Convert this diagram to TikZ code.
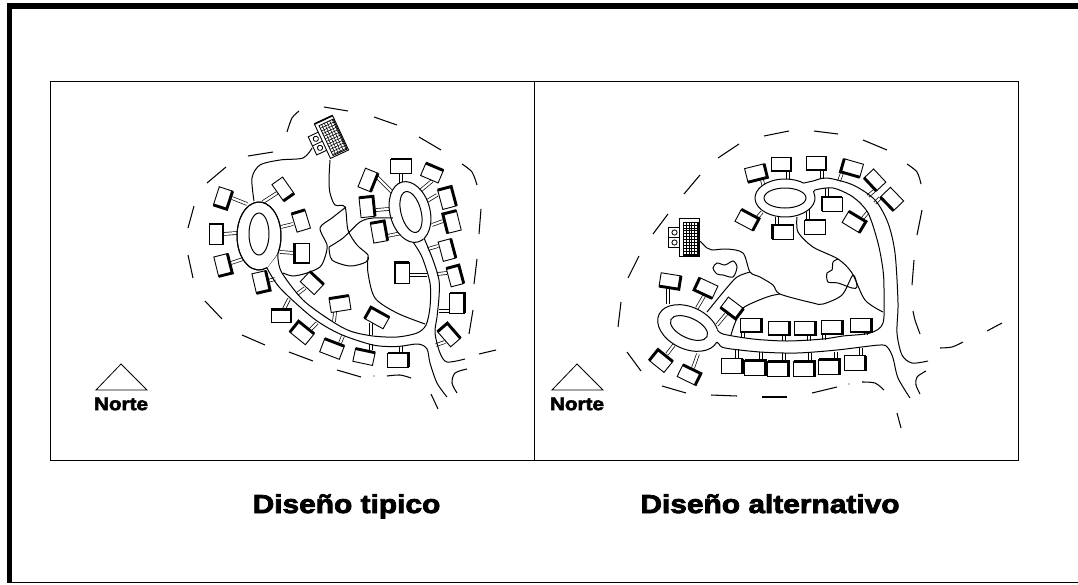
\documentclass[tikz,border=0pt]{standalone}
\usepackage{fontspec}
\setmainfont{Liberation Sans}[BoldFeatures={FakeBold=3,FakeStretch=1.15}]
\tikzset{
  casaline/.style={line width=.9pt,fill=white,line join=miter},
  casaedge/.style={line width=2.9pt,line cap=butt},
  acceso/.style={double,double distance=2.2pt,line width=.7pt},
  calle/.style={line width=1pt},
  limite/.style={line width=1.05pt},
  anillo/.style={line width=1pt,fill=white}
}
\newcommand{\casa}[6]{%
  \begin{scope}[shift={(#1,#2)},rotate=#3]
    \coordinate (a) at (-#4/2,-#5/2);
    \coordinate (b) at (#4/2,-#5/2);
    \coordinate (c) at (#4/2,#5/2);
    \coordinate (d) at (-#4/2,#5/2);
    \draw[casaline] (a) -- (b) -- (c) -- (d) -- cycle;
    \draw[casaedge] #6;
  \end{scope}}
\newcommand{\edificio}[3]{%
  \begin{scope}[shift={(#1,#2)},rotate=#3]
    \draw[casaline] (-21,-10) rectangle (-9,10);
    \draw[line width=.8pt] (-21,0) -- (-9,0);
    \draw[line width=.8pt] (-15,-5) circle (2.6);
    \draw[line width=.8pt] (-15,5) circle (2.6);
    \draw[casaline] (-10,-19) rectangle (10,19);
    \draw[line width=1.6pt] (-10,-19) -- (10,-19);
    \foreach \gx in {-3.6,-0.7,...,9}
      \draw[line width=.55pt] (\gx,-15.5) -- (\gx,17.5);
    \foreach \gy in {-12.6,-9.7,...,17}
      \draw[line width=.55pt] (-6.5,\gy) -- (9,\gy);
    \draw[line width=.8pt] (-6.5,-15.5) rectangle (9,17.5);
  \end{scope}}
\begin{document}
\begin{tikzpicture}[x=1pt,y=-1pt]
\useasboundingbox (0,0) rectangle (1078,584);
\fill[white] (0,0) rectangle (1078,584);
\fill (7,3) rectangle (1078,9);
\fill (7,3) rectangle (12,583);
\draw[line width=1.4pt] (7,582.5) -- (1078,582.5);
\draw[line width=.7pt] (50,81) rectangle (1018,460);
\draw[line width=.7pt] (534,81) -- (534,460);

% trazos del limite
\foreach \xa/\ya/\xb/\yb in {248/156/273/152,207/183/226/167,324/107/348/111,194/206/188/228,
  188/255/193/278,205/301/222/319,242/335/265/345,289/352/313/361,337/370/361/377,
  431/394/438/409,479/354/496/350,469/334/473/310,474/284/477/259,479/234/481/209,
  419/137/441/150,374/117/397/125,
  764/136/789/131,718/158/739/144,684/194/700/175,653/234/668/214,628/278/639/256,
  814/131/838/134,863/140/887/150,922/210/917/235,914/260/912/285,987/331/1002/323,
  897/413/901/428,812/393/837/387,762/397/787/397,711/395/737/396,662/386/686/393,
  627/352/641/371,621/302/618/327}
  \draw[limite] (\xa,\ya) -- (\xb,\yb);
\draw[limite] plot[smooth] coordinates {(287,132) (292,118) (299,111)};
\draw[limite] plot[smooth] coordinates {(387,376) (400,375) (411,378)};
\draw[limite] plot[smooth] coordinates {(462,164) (472,172) (477,185)};
\draw[limite] plot[smooth] coordinates {(467,369) (455,373) (452,383) (457,393)};
\draw[limite] plot[smooth] coordinates {(907,164) (917,172) (921,184)};
\draw[limite] plot[smooth] coordinates {(913,311) (915,320) (920,334)};
\draw[limite] plot[smooth] coordinates {(940,348) (952,347) (963,342)};
\draw[limite] plot[smooth] coordinates {(926,371) (917,377) (916,385) (920,394)};
\draw[limite] plot[smooth] coordinates {(862,382) (875,383) (884,390)};
\fill (374,376) circle (.7);
\fill (849,384) circle (.7);

% accesos
\foreach \xa/\ya/\xb/\yb in {232/198/247/204,277/193/263/202,293/224/281/227,295/253/280/252,
  223/234/237/233,231/263/246/258,268/281/275/279,305/288/297/294,284/309/289/299,
  335/312/334/322,310/330/317/323,340/343/343/336,371/350/371/344,401/353/401/346,
  409/275/427/275,371/323/371/335,450/311/439/311,447/273/437/274,438/246/428/249,
  445/342/436/345,377/177/392/192,401/173/401/183,432/181/420/191,437/195/427/201,
  443/221/432/225,376/210/389/209,387/236/402/233,
  762/180/764/187,788/171/788/179,822/171/822/179,842/173/839/181,874/191/868/196,
  880/198/875/203,827/197/827/188,868/212/863/218,808/219/808/208,777/224/777/217,
  762/212/757/218,668/289/668/304,704/296/697/308,727/313/717/325,743/332/743/338,
  784/335/784/341,809/336/809/341,824/335/824/340,866/332/866/335,737/358/737/349,
  761/360/761/352,784/362/784/353,810/362/810/353,836/359/836/352,861/356/861/348,
  667/354/674/345,693/368/698/354}
  \draw[acceso] (\xa,\ya) -- (\xb,\yb);

% calles y anillos, diseno tipico
\draw[anillo] (259,236) ++(30:22 and 34) arc[start angle=30,end angle=-291,x radius=22,y radius=34] -- cycle;
\fill[white] (278,253) -- (267,268) -- (259,236) -- cycle;
\draw[calle] (259,236) ++(30:22 and 34) arc[start angle=30,end angle=-291,x radius=22,y radius=34];
\draw[calle] (259,234) ellipse (10 and 21);
\draw[calle] plot[smooth] coordinates {(278,253) (278,259) (282,273) (303,300) (330,320) (350,331) (373,336) (397,337) (417,333) (426,325) (430,307) (430,283) (422,257) (413,242)};
\draw[calle] plot[smooth] coordinates {(267,268) (280,288) (313,318) (340,334) (373,345) (397,346.5) (418,344) (427,349) (430,363) (437,383) (447,397)};
\draw[calle] plot[smooth] coordinates {(424,238) (433,260) (439,280) (439,297) (437,317) (435,333) (440,353) (447,362) (465,359)};
\draw[rotate around={15:(410,212)},anillo] (410,212) ellipse (20 and 31);
\fill[white,rotate around={15:(410,212)}] (410,212) ++(70:20 and 31) -- ++(0,-5) -- (402,240) -- cycle;
\draw[calle,rotate around={15:(411,212)}] (411,212) ellipse (10 and 21);

% senderos, diseno tipico
\draw[calle] plot[smooth] coordinates {(312,148) (303,158) (280,160) (260,165) (252,178) (254,201)};
\draw[calle] plot[smooth] coordinates {(330,160) (329,180) (330,193) (335,205) (345,207) (348,230) (357,245) (368,255) (366,262) (350,266) (332,260) (329,247)};
\draw[calle] plot[smooth] coordinates {(346,207) (332,218) (320,228) (327,245) (325,257) (320,267) (307,273) (293,276) (283,273)};
\draw[calle] plot[smooth] coordinates {(329,247) (343,238) (360,222) (373,218) (393,218)};
\draw[calle] plot[smooth] coordinates {(368,257) (368,273) (375,298) (397,313) (425,324)};

% calles y anillos, diseno alternativo
\draw[calle,fill=white] (785,198) ++(-15:30 and 19) arc[start angle=-15,end angle=309,x radius=30,y radius=19];
\draw[calle] (785,198) ellipse (21 and 10);
\draw[calle] plot[smooth] coordinates {(804,183) (813,181) (827,178) (853,185) (875,200) (888,223) (895,253) (898,303) (897,333) (902,355) (912,363) (928,361)};
\draw[calle] plot[smooth] coordinates {(814,193) (815,190) (833,188) (853,197) (868,213) (878,243) (883,270) (884,290) (883,323) (870,333) (843,336) (823,339) (787,341) (753,339) (723,334) (717,329)};
\draw[calle,rotate around={-25:(688,328)},fill=white] (688,328) ++(2:32 and 21) arc[start angle=2,end angle=327,x radius=32,y radius=21];
\draw[calle,rotate around={-25:(689,328)}] (689,328) ellipse (20 and 10);
\draw[calle] plot[smooth] coordinates {(717,342) (719,344) (725,348) (760,352) (797,353) (837,350) (880,345) (888,348) (893,358) (898,378) (910,398)};

% senderos, diseno alternativo
\draw[calle] plot[smooth] coordinates {(797,217) (798,232) (813,247) (838,259) (852,273) (865,300) (883,312)};
\draw[calle] plot[smooth] coordinates {(838,259) (833,262) (832,270) (827,273) (828,282) (838,283) (852,288) (857,287) (853,275) (842,295) (823,304) (813,303) (780,294) (773,285) (760,277) (750,272) (743,253) (727,249) (712,250) (707,248) (700,241)};
\draw[calle] plot[smooth] coordinates {(780,294) (767,297) (743,308) (735,323) (731,335)};
\draw[calle] plot[smooth] coordinates {(750,272) (737,277) (725,290) (707,312)};
\draw[calle] plot[smooth cycle] coordinates {(713,268) (717,263) (725,265) (733,261) (737,267) (733,277) (723,275) (717,274)};

\edificio{331.5}{137}{25}
\edificio{689.5}{237.5}{0}

% casas, diseno tipico
\casa{223}{198}{-18}{14}{19}{(b) -- (c) -- (d)}
\casa{283}{189}{35}{13}{20}{(c) -- (d)}
\casa{301}{221}{17}{14}{19}{(a) -- (b)}
\casa{302}{253}{0}{14.5}{20}{(a) -- (d) -- (c)}
\casa{216}{234}{0}{14}{20}{(a) -- (b) -- (c)}
\casa{223}{265}{14}{14}{20}{(b) -- (c) -- (d)}
\casa{261}{282}{13}{14}{20}{(b) -- (c) -- (d)}
\casa{312}{283}{-43}{19}{14}{(a) -- (b)}
\casa{281}{316}{0}{20}{13.5}{(a) -- (b) -- (c)}
\casa{340}{304}{9}{20}{14}{(a) -- (b)}
\casa{302}{333}{-39}{20}{14}{(d) -- (a) -- (b)}
\casa{332}{349}{-21}{21}{14}{(a) -- (b)}
\casa{364}{357}{-12}{20}{13}{(a) -- (b)}
\casa{398}{360}{0}{21}{14}{(a) -- (b) -- (c)}
\casa{402}{273}{0}{14}{21}{(d) -- (a) -- (b)}
\casa{377}{318}{-29}{21}{13}{(d) -- (a) -- (b)}
\casa{457}{303}{0}{15}{20}{(a) -- (b) -- (c)}
\casa{455}{276}{15}{13}{19}{(a) -- (b) -- (c)}
\casa{447}{250}{15}{13}{20}{(b) -- (c)}
\casa{449}{335}{-49}{20}{13}{(d) -- (a) -- (b)}
\casa{368}{180}{-22}{13.5}{20}{(b) -- (c)}
\casa{401}{166}{0}{21}{14}{(a) -- (b)}
\casa{432}{173}{-23}{19}{13.5}{(a) -- (b)}
\casa{447}{198}{15}{14}{20}{(a) -- (b) -- (c)}
\casa{452}{222}{14}{14}{20}{(d) -- (a) -- (b)}
\casa{367}{207}{6}{14}{20}{(a) -- (b) -- (c)}
\casa{379}{232}{10}{14}{20}{(a) -- (b) -- (c)}

% casas, diseno alternativo
\casa{756}{173}{14}{20}{14}{(b) -- (c) -- (d)}
\casa{781}{164}{0}{20}{14}{(b) -- (c) -- (d)}
\casa{816}{163}{0}{20}{14}{(b) -- (c) -- (d)}
\casa{852}{168}{-16}{20}{13.5}{(a) -- (d) -- (c)}
\casa{875}{180}{-47}{18}{13}{(d) -- (c)}
\casa{892}{199}{-46}{19}{14}{(d) -- (c)}
\casa{832}{204}{0}{20}{14}{(d) -- (a) -- (b)}
\casa{854}{222}{-31}{20}{13}{(a) -- (b) -- (c)}
\casa{815}{227}{0}{21}{14}{(a) -- (b)}
\casa{783}{232}{0}{21}{14}{(d) -- (a) -- (b)}
\casa{747}{220}{-28}{20}{13.5}{(a) -- (b) -- (c)}
\casa{670}{281}{-9}{20}{13.5}{(b) -- (c) -- (d)}
\casa{706}{288}{-25}{20}{13.5}{(a) -- (d) -- (c)}
\casa{732}{308}{-37}{19}{13}{(d) -- (c) -- (b)}
\casa{751}{325}{0}{21}{14}{(b) -- (c) -- (d)}
\casa{779}{328}{0}{21}{14}{(b) -- (c) -- (d)}
\casa{805}{328}{0}{21}{14}{(b) -- (c) -- (d)}
\casa{832}{327}{0}{21}{14}{(b) -- (c) -- (d)}
\casa{861}{325}{0}{21}{14}{(b) -- (c) -- (d)}
\casa{732}{366}{0}{21}{15}{(b) -- (c)}
\casa{755}{368}{0}{21}{15}{(a) -- (b) -- (c)}
\casa{778}{369}{0}{21}{15}{(a) -- (b) -- (c)}
\casa{804}{369}{0}{21}{15}{(a) -- (b) -- (c)}
\casa{829}{367}{0}{21}{15}{(a) -- (b) -- (c)}
\casa{855}{363}{0}{21}{15}{(b) -- (c)}
\casa{661}{361}{-39}{19}{14}{(d) -- (a) -- (b)}
\casa{689}{375}{-26}{20}{13}{(a) -- (b) -- (c)}

% norte
\draw[line width=.8pt] (121,364) -- (96,390) -- (147,390) -- cycle;
\draw[line width=.8pt] (577,364) -- (552,390) -- (603,390) -- cycle;
\node[font=\fontsize{18}{18}\selectfont\bfseries] (norteA) at (121,404) {Norte};
\node[font=\fontsize{18}{18}\selectfont\bfseries] (norteB) at (577,404) {Norte};
\node[font=\fontsize{26}{26}\selectfont\bfseries,anchor=base] (tipico) at (346.5,513) {Diseño tipico};
\node[font=\fontsize{26}{26}\selectfont\bfseries,anchor=base] (alternativo) at (770,513) {Diseño alternativo};
\end{tikzpicture}
\end{document}
